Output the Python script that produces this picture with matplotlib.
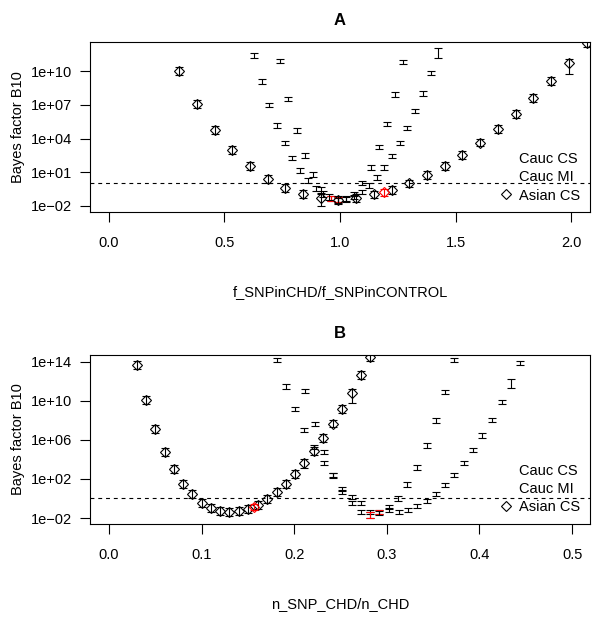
import numpy as np
import matplotlib.pyplot as plt
from matplotlib.lines import Line2D

plt.rcParams['font.family'] = ['Liberation Sans', 'DejaVu Sans']
plt.rcParams['font.size'] = 10.5

# values are log10(Bayes factor B10)

# ---- panel A : f_SNPinCHD/f_SNPinCONTROL ----
cs_a_x = [0.628, 0.661, 0.694, 0.727, 0.761, 0.794, 0.827, 0.860, 0.894, 0.927, 0.960, 0.993, 1.026,
          1.060, 1.093, 1.126, 1.159, 1.192, 1.226, 1.259, 1.292, 1.325, 1.358, 1.392, 1.425]
cs_a_log = [11.42, 9.07, 7.00, 5.17, 3.62, 2.28, 1.16, 0.25, -0.44, -0.95, -1.35, -1.50, -1.45,
            -1.20, -0.75, -0.18, 0.53, 1.42, 2.43, 3.62, 4.95, 6.44, 8.01, 9.85, 11.63]
cs_a_err = [0.2, 0.2, 0.2, 0.2, 0.2, 0.2, 0.2, 0.2, 0.25, 0.3, 0.2, 0.2, 0.2,
            0.2, 0.2, 0.2, 0.2, 0.2, 0.2, 0.2, 0.2, 0.2, 0.2, 0.2, 0.42]
cs_a_red = [10]

mi_a_x = [0.741, 0.777, 0.812, 0.848, 0.883, 0.919, 0.954, 0.990, 1.025, 1.061, 1.096, 1.132,
          1.167, 1.203, 1.238, 1.274]
mi_a_log = [10.93, 7.55, 4.72, 2.49, 0.78, -0.60, -1.20, -1.45, -1.35, -0.95, 0.05, 1.42,
            3.26, 5.31, 7.95, 10.83]
mi_a_err = [0.2, 0.2, 0.2, 0.2, 0.2, 0.25, 0.25, 0.2, 0.2, 0.2, 0.2, 0.2, 0.2, 0.2, 0.2, 0.2]
mi_a_red = [7]

asian_a_x = [0.304, 0.380, 0.457, 0.534, 0.610, 0.687, 0.763, 0.840, 0.917, 0.993, 1.070, 1.147,
             1.224, 1.300, 1.377, 1.453, 1.530, 1.607, 1.683, 1.760, 1.837, 1.913, 1.990, 2.067]
asian_a_log = [10.00, 7.10, 4.77, 2.97, 1.54, 0.42, -0.39, -0.93, -1.30, -1.50, -1.28, -0.98,
               -0.61, 0.00, 0.72, 1.54, 2.52, 3.65, 4.84, 6.17, 7.60, 9.17, 10.77, 12.56]
asian_a_lo = [0.35, 0.35, 0.35, 0.35, 0.35, 0.35, 0.35, 0.35, 0.75, 0.35, 0.35, 0.35,
              0.35, 0.35, 0.35, 0.35, 0.35, 0.35, 0.35, 0.35, 0.35, 0.35, 1.05, 0.35]
asian_a_hi = [0.35] * 24
asian_a_obs_x = [1.19]
asian_a_obs_log = [-0.80]

# ---- panel B : n_SNP_CHD/n_CHD ----
cs_b_x = [0.181, 0.191, 0.201, 0.211, 0.221, 0.232, 0.242, 0.252, 0.262, 0.272, 0.282, 0.292,
          0.302, 0.312, 0.322, 0.333, 0.343, 0.353, 0.363, 0.373]
cs_b_log = [14.20, 11.47, 9.15, 7.03, 5.25, 3.61, 2.36, 0.97, 0.18, -0.49, -1.40, -1.35,
            -0.84, 0.00, 1.43, 3.17, 5.42, 7.98, 10.89, 14.20]
cs_b_err = [0.22] * 20
cs_b_red = [11]

mi_b_x = [0.212, 0.222, 0.232, 0.242, 0.252, 0.262, 0.272, 0.282, 0.292, 0.302, 0.313, 0.323,
          0.333, 0.343, 0.353, 0.363, 0.373, 0.383, 0.393, 0.403, 0.414, 0.424, 0.434, 0.444]
mi_b_log = [11.03, 7.64, 4.74, 2.40, 0.65, -0.49, -1.36, -1.70, -1.45, -1.18, -1.35, -1.18,
            -0.74, -0.23, 0.49, 1.38, 2.41, 3.61, 4.97, 6.44, 8.05, 9.87, 11.74, 13.87]
mi_b_err = [0.22, 0.22, 0.22, 0.22, 0.22, 0.22, 0.22, 0.3, 0.22, 0.22, 0.22, 0.22,
            0.22, 0.22, 0.22, 0.22, 0.22, 0.22, 0.22, 0.22, 0.22, 0.22, 0.45, 0.22]
mi_b_red = [7]

asian_b_x = [0.030, 0.040, 0.050, 0.060, 0.070, 0.080, 0.090, 0.100, 0.110, 0.120, 0.130, 0.140,
             0.150, 0.161, 0.171, 0.181, 0.191, 0.201, 0.211, 0.221, 0.231, 0.242, 0.252, 0.262,
             0.272, 0.282]
asian_b_log = [13.69, 10.07, 7.10, 4.80, 3.00, 1.49, 0.43, -0.43, -1.00, -1.31, -1.42, -1.31,
               -1.11, -0.63, -0.05, 0.67, 1.49, 2.51, 3.64, 4.87, 6.20, 7.67, 9.18, 10.85,
               12.60, 14.44]
asian_b_lo = [0.4] * 18 + [0.5, 0.4, 0.4, 0.4, 0.4, 1.1, 0.4, 0.4]
asian_b_hi = [0.4] * 26
asian_b_obs_x = [0.157]
asian_b_obs_log = [-0.84]


def err_bars(ax, x, lg, lo, hi, color, marker=None):
    x = np.asarray(x)
    lg = np.asarray(lg)
    y = 10.0 ** lg
    yerr = [y - 10.0 ** (lg - np.asarray(lo)), 10.0 ** (lg + np.asarray(hi)) - y]
    ax.errorbar(x, y, yerr=yerr, fmt='none', ecolor=color, elinewidth=0.8,
                capsize=2.6, capthick=0.8)
    if marker:
        ax.plot(x, y, linestyle='none', marker=marker, ms=5.2, mfc='none',
                mec=color, mew=0.8)


def panel(ax, cauc, asian, obs, xlim, ylog, xticks, xtl, yticks, xlabel, title):
    for x, lg, err, red in cauc:
        err_bars(ax, x, lg, err, err, 'black')
        sel = np.asarray(red)
        err_bars(ax, np.asarray(x)[sel], np.asarray(lg)[sel],
                 np.asarray(err)[sel], np.asarray(err)[sel], 'red')
    ax_x, ax_lg, ax_lo, ax_hi = asian
    err_bars(ax, ax_x, ax_lg, ax_lo, ax_hi, 'black', marker='D')
    err_bars(ax, obs[0], obs[1], [0.3], [0.3], 'red', marker='D')

    ax.axhline(1, color='black', lw=0.8, linestyle=(0, (3.5, 3.5)))
    ax.set_yscale('log')
    ax.set_xlim(*xlim)
    ax.set_ylim(10.0 ** ylog[0], 10.0 ** ylog[1])
    ax.minorticks_off()
    ax.set_yticks([10.0 ** v for v in yticks])
    ax.set_yticklabels([('1e+%02d' % v) if v >= 0 else ('1e\u2212%02d' % -v) for v in yticks])
    ax.set_xticks(xticks)
    ax.set_xticklabels(xtl)
    ax.tick_params(axis='x', length=7, width=0.8, pad=10.5, labelsize=10.5)
    ax.tick_params(axis='y', length=7, width=0.8, pad=6, labelsize=10.5)
    for s in ax.spines.values():
        s.set_linewidth(0.8)
    ax.set_xlabel(xlabel, fontsize=10.5)
    ax.xaxis.set_label_coords(0.5, -0.43)
    ax.set_ylabel('Bayes factor B10', fontsize=10.5)
    ax.yaxis.set_label_coords(-0.13, 0.5)
    ax.set_title(title, fontweight='bold', fontsize=12, pad=12)

    handles = [Line2D([], [], linestyle='none'),
               Line2D([], [], linestyle='none'),
               Line2D([], [], linestyle='none', marker='D', ms=5.2, mfc='none', mec='black', mew=0.8)]
    ax.legend(handles, ['Cauc CS', 'Cauc MI', 'Asian CS'], loc='lower right', frameon=False,
              handlelength=1.0, handletextpad=0.4, labelspacing=0.3, borderaxespad=0.35,
              borderpad=0.3, fontsize=10.5)


fig = plt.figure(figsize=(5.93, 6.2), dpi=100)
ax_a = fig.add_axes([0.1518, 0.658, 0.8432, 0.274])
ax_b = fig.add_axes([0.1518, 0.155, 0.8432, 0.2726])

panel(ax_a,
      [(cs_a_x, cs_a_log, cs_a_err, cs_a_red), (mi_a_x, mi_a_log, mi_a_err, mi_a_red)],
      (asian_a_x, asian_a_log, asian_a_lo, asian_a_hi),
      (asian_a_obs_x, asian_a_obs_log),
      (-0.082, 2.082), (-2.55, 12.6),
      [0.0, 0.5, 1.0, 1.5, 2.0], ['0.0', '0.5', '1.0', '1.5', '2.0'],
      [-2, 1, 4, 7, 10], 'f_SNPinCHD/f_SNPinCONTROL', 'A')

panel(ax_b,
      [(cs_b_x, cs_b_log, cs_b_err, cs_b_red), (mi_b_x, mi_b_log, mi_b_err, mi_b_red)],
      (asian_b_x, asian_b_log, asian_b_lo, asian_b_hi),
      (asian_b_obs_x, asian_b_obs_log),
      (-0.0205, 0.5194), (-2.6, 14.7),
      [0.0, 0.1, 0.2, 0.3, 0.4, 0.5], ['0.0', '0.1', '0.2', '0.3', '0.4', '0.5'],
      [-2, 2, 6, 10, 14], 'n_SNP_CHD/n_CHD', 'B')

fig.savefig('out.png', dpi=100)
